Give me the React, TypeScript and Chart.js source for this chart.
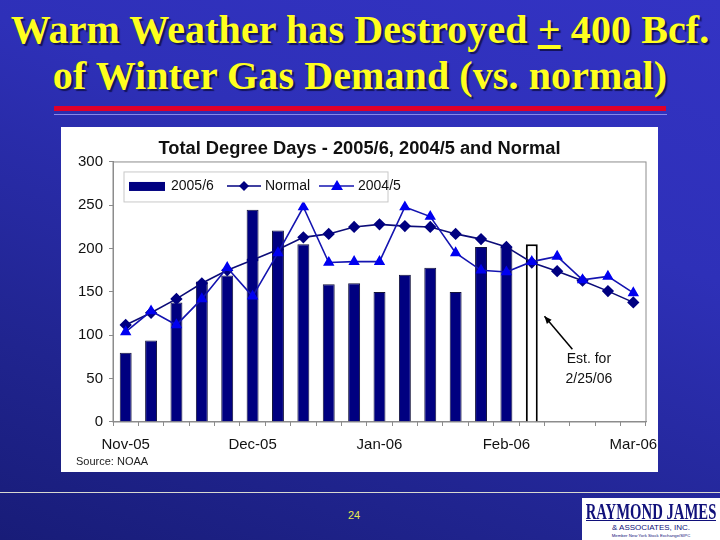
import { useEffect, useRef } from "react";
import { Chart, registerables } from "chart.js";
import type { Plugin } from "chart.js";

Chart.register(...registerables);

const weekLabels = [
  "Nov-05", "", "", "", "", "Dec-05", "", "", "", "", "Jan-06",
  "", "", "", "", "Feb-06", "", "", "", "", "Mar-06",
];
const actual0506 = [80, 94, 138, 162, 169, 245, 221, 205, 159, 160, 150, 170, 178, 150, 202, 202, 205, null, null, null, null];
const normal = [112, 126, 142, 160, 175, 187, 199, 213, 217, 225, 228, 226, 225, 217, 211, 202, 184, 174, 163, 151, 138];
const actual0405 = [104, 128, 112, 142, 178, 145, 195, 248, 184, 185, 185, 248, 237, 195, 175, 173, 185, 191, 164, 168, 149];
const yTicks = [0, 50, 100, 150, 200, 250, 300];

const ESTIMATE_INDEX = 16;
const NAVY = "#000080";
const BLUE = "#0000f0";
const SANS = "'Liberation Sans', Arial, sans-serif";

// plot frame, legend box, the "Est." note and the source line
const extras: Plugin<"bar"> = {
  id: "extras",
  afterDatasetsDraw(chart) {
    const { ctx, chartArea: a, scales } = chart;
    const x = scales.x;
    const y = scales.y;
    ctx.save();

    ctx.strokeStyle = "#8c8c8c";
    ctx.lineWidth = 1;
    ctx.strokeRect(a.left, a.top, a.right - a.left, a.bottom - a.top);

    // legend
    const lx = a.left + 11;
    const ly = a.top + 10;
    ctx.fillStyle = "#fff";
    ctx.strokeStyle = "#c8c8c8";
    ctx.fillRect(lx, ly, 264, 30);
    ctx.strokeRect(lx, ly, 264, 30);
    const my = ly + 14;
    ctx.fillStyle = NAVY;
    ctx.fillRect(lx + 5, my - 4, 36, 9);
    ctx.font = `14px ${SANS}`;
    ctx.fillStyle = "#111";
    ctx.textBaseline = "middle";
    ctx.textAlign = "left";
    ctx.fillText("2005/6", lx + 47, my);
    ctx.fillText("Normal", lx + 141, my);
    ctx.fillText("2004/5", lx + 234 - 0, my);

    ctx.strokeStyle = NAVY;
    ctx.lineWidth = 1.5;
    ctx.beginPath();
    ctx.moveTo(lx + 103, my);
    ctx.lineTo(lx + 137, my);
    ctx.stroke();
    ctx.fillStyle = NAVY;
    ctx.beginPath();
    ctx.moveTo(lx + 120, my - 5);
    ctx.lineTo(lx + 125, my);
    ctx.lineTo(lx + 120, my + 5);
    ctx.lineTo(lx + 115, my);
    ctx.closePath();
    ctx.fill();

    ctx.strokeStyle = "#1414b0";
    ctx.beginPath();
    ctx.moveTo(lx + 195, my);
    ctx.lineTo(lx + 230, my);
    ctx.stroke();
    ctx.fillStyle = BLUE;
    ctx.beginPath();
    ctx.moveTo(lx + 213, my - 6);
    ctx.lineTo(lx + 219, my + 4);
    ctx.lineTo(lx + 207, my + 4);
    ctx.closePath();
    ctx.fill();

    // arrow to the estimated bar
    const tipX = x.getPixelForValue(ESTIMATE_INDEX + 0.5);
    const tipY = y.getPixelForValue(122);
    const tailX = x.getPixelForValue(ESTIMATE_INDEX + 1.6);
    const tailY = y.getPixelForValue(84);
    const ang = Math.atan2(tipY - tailY, tipX - tailX);
    ctx.strokeStyle = "#000";
    ctx.fillStyle = "#000";
    ctx.lineWidth = 1.5;
    ctx.beginPath();
    ctx.moveTo(tailX, tailY);
    ctx.lineTo(tipX, tipY);
    ctx.stroke();
    ctx.beginPath();
    ctx.moveTo(tipX, tipY);
    ctx.lineTo(tipX - 8 * Math.cos(ang - 0.4), tipY - 8 * Math.sin(ang - 0.4));
    ctx.lineTo(tipX - 8 * Math.cos(ang + 0.4), tipY - 8 * Math.sin(ang + 0.4));
    ctx.closePath();
    ctx.fill();

    ctx.font = `14px ${SANS}`;
    ctx.fillStyle = "#111";
    ctx.textAlign = "center";
    ctx.fillText("Est. for", x.getPixelForValue(18.25), y.getPixelForValue(73));
    ctx.fillText("2/25/06", x.getPixelForValue(18.25), y.getPixelForValue(49));

    ctx.font = `11px ${SANS}`;
    ctx.textAlign = "left";
    ctx.fillStyle = "#222";
    ctx.fillText("Source: NOAA", 15, 335);
    ctx.restore();
  },
};

function DegreeDaysChart() {
  const chartRef = useRef<HTMLCanvasElement>(null);

  useEffect(() => {
    if (!chartRef.current) return;

    const chart = new Chart(chartRef.current, {
      type: "bar",
      data: {
        labels: weekLabels,
        datasets: [
          {
            type: "line",
            label: "2004/5",
            data: actual0405,
            borderColor: "#1414b0",
            backgroundColor: BLUE,
            borderWidth: 1.6,
            tension: 0,
            pointStyle: "triangle",
            pointRadius: 5,
            pointBorderColor: BLUE,
            order: 1,
          },
          {
            type: "line",
            label: "Normal",
            data: normal,
            borderColor: "#0c0c78",
            backgroundColor: NAVY,
            borderWidth: 1.6,
            tension: 0,
            pointStyle: "rectRot",
            pointRadius: 5,
            pointBorderColor: NAVY,
            order: 2,
          },
          {
            label: "2005/6",
            data: actual0506,
            backgroundColor: actual0506.map((_, i) => (i === ESTIMATE_INDEX ? "#ffffff" : NAVY)),
            borderColor: actual0506.map((_, i) => (i === ESTIMATE_INDEX ? "#000000" : "#14143c")),
            borderWidth: actual0506.map((_, i) => (i === ESTIMATE_INDEX ? 2 : 1)),
            categoryPercentage: 1,
            barPercentage: 0.47,
            order: 3,
          },
        ],
      } as any,
      options: {
        animation: false,
        responsive: false,
        maintainAspectRatio: false,
        layout: { padding: 0 },
        plugins: {
          legend: { display: false },
          tooltip: { enabled: false },
          title: {
            display: true,
            text: "Total Degree Days - 2005/6, 2004/5 and Normal",
            color: "#111",
            font: { family: SANS, size: 18.3, weight: "bold" },
            padding: { top: 11, bottom: 2 },
          },
        },
        scales: {
          x: {
            afterFit: (scale: any) => {
              scale.height = 50;
              scale.paddingLeft = 0;
              scale.paddingRight = 12;
            },
            grid: { drawOnChartArea: false, color: "#8c8c8c", tickLength: 4 },
            border: { color: "#8c8c8c" },
            ticks: {
              autoSkip: false,
              maxRotation: 0,
              color: "#111",
              padding: 10,
              font: { family: SANS, size: 15 },
            },
          },
          y: {
            min: 0,
            max: 300,
            afterFit: (scale: any) => {
              scale.width = 52;
            },
            afterBuildTicks: (scale: any) => {
              scale.ticks = yTicks.map((value) => ({ value }));
            },
            grid: { drawOnChartArea: false, color: "#8c8c8c", tickLength: 4 },
            border: { color: "#8c8c8c" },
            ticks: {
              color: "#111",
              padding: 6,
              font: { family: SANS, size: 15 },
            },
          },
        },
      },
      plugins: [extras as any],
    });

    return () => chart.destroy();
  }, []);

  return <canvas ref={chartRef} width={597} height={345} style={{ display: "block" }} />;
}

export default function App() {
  useEffect(() => {
    document.body.style.margin = "0";
  }, []);

  const titleStyle: React.CSSProperties = {
    position: "absolute",
    left: 0,
    width: 720,
    textAlign: "center",
    fontFamily: "'Liberation Serif', serif",
    fontWeight: "bold",
    fontSize: 40,
    letterSpacing: 0.1,
    lineHeight: "46px",
    color: "#ffff1e",
    textShadow: "2px 2px 1px #14145a",
    whiteSpace: "nowrap",
  };

  return (
    <div
      style={{
        position: "relative",
        width: 720,
        height: 540,
        overflow: "hidden",
        background: "linear-gradient(200deg, #3333c4 0%, #2e30b8 35%, #20248f 75%, #181c78 100%)",
      }}
    >
      <div style={{ ...titleStyle, top: 7 }}>
        Warm Weather has Destroyed <span style={{ textDecoration: "underline" }}>+</span> 400 Bcf.
      </div>
      <div style={{ ...titleStyle, top: 53 }}>of Winter Gas Demand (vs. normal)</div>
      <div style={{ position: "absolute", left: 54, top: 106, width: 612, height: 5, background: "#e0002a" }} />
      <div style={{ position: "absolute", left: 54, top: 114, width: 613, height: 1, background: "#8888e8" }} />

      <div style={{ position: "absolute", left: 61, top: 127, width: 597, height: 345, background: "#fff" }}>
        <DegreeDaysChart />
      </div>

      <div style={{ position: "absolute", left: 0, top: 492, width: 720, height: 1, background: "#d8d8d0" }} />
      <div
        style={{
          position: "absolute",
          left: 344,
          top: 509,
          width: 20,
          textAlign: "center",
          fontFamily: "'Liberation Sans', sans-serif",
          fontSize: 11,
          color: "#e8e850",
        }}
      >
        24
      </div>
      <div
        style={{
          position: "absolute",
          left: 582,
          top: 498,
          width: 138,
          height: 42,
          background: "#fff",
          textAlign: "center",
          color: "#10107a",
          overflow: "hidden",
        }}
      >
        <div
          style={{
            position: "absolute",
            left: -60,
            width: 258,
            top: 2,
            fontFamily: "'Liberation Serif', serif",
            fontWeight: "bold",
            fontSize: 23,
            lineHeight: "24px",
            transform: "scaleX(0.64)",
            whiteSpace: "nowrap",
          }}
        >
          RAYMOND JAMES
        </div>
        <div style={{ position: "absolute", left: 4, top: 22, width: 130, height: 1, background: "#10107a" }} />
        <div
          style={{
            position: "absolute",
            left: 0,
            width: 138,
            top: 25,
            fontFamily: "'Liberation Sans', sans-serif",
            fontSize: 8,
            lineHeight: "9px",
          }}
        >
          &amp; ASSOCIATES, INC.
        </div>
        <div
          style={{
            position: "absolute",
            left: 0,
            width: 138,
            top: 34,
            fontFamily: "'Liberation Sans', sans-serif",
            fontSize: 4.3,
            lineHeight: "7px",
          }}
        >
          Member New York Stock Exchange/SIPC
        </div>
      </div>
    </div>
  );
}
